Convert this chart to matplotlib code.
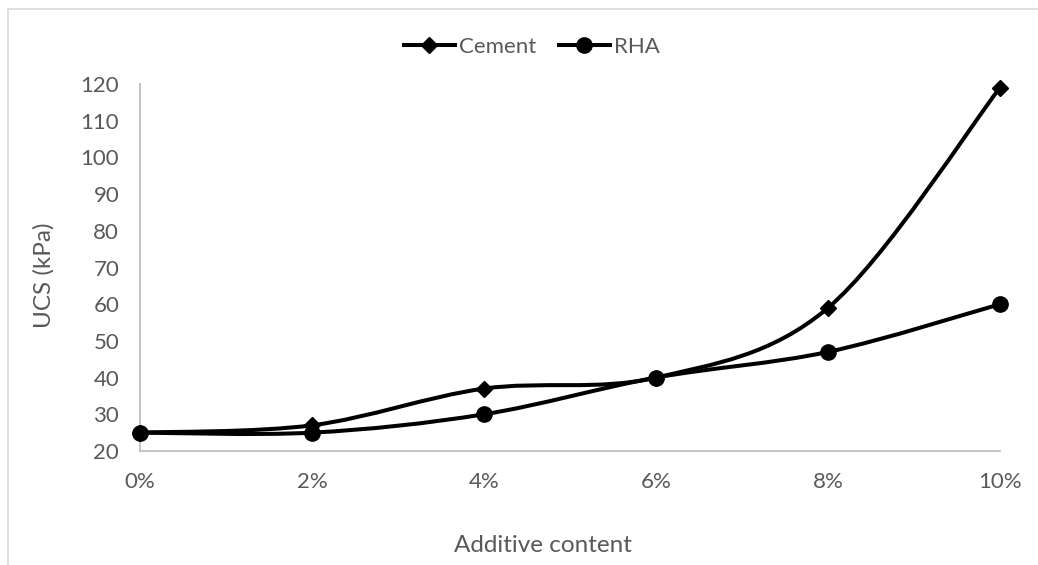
import numpy as np
import matplotlib.pyplot as plt
from matplotlib.path import Path
from matplotlib.patches import PathPatch, Rectangle
from matplotlib.lines import Line2D

# data
additive = [0, 2, 4, 6, 8, 10]
tick_labels = ['0%', '2%', '4%', '6%', '8%', '10%']
cement = [25, 27, 37, 40, 59, 119]
rha = [25, 25, 30, 40, 47, 60]

TEXT = '#595959'
AXIS = '#BFBFBF'
FONT = 'Lato'


def smooth_path(x, y):
    """Excel-like smoothed line: Catmull-Rom segments written as cubic Beziers."""
    pts = np.column_stack([x, y]).astype(float)
    n = len(pts)
    verts = [pts[0]]
    codes = [Path.MOVETO]
    for i in range(n - 1):
        p0 = pts[max(i - 1, 0)]
        p1 = pts[i]
        p2 = pts[i + 1]
        p3 = pts[min(i + 2, n - 1)]
        c1 = p1 + (p2 - p0) / 6.0
        c2 = p2 - (p3 - p1) / 6.0
        verts += [c1, c2, p2]
        codes += [Path.CURVE4] * 3
    return Path(verts, codes)


fig = plt.figure(figsize=(10.38, 5.65), dpi=100)
ax = fig.add_axes([140 / 1038, 1 - 451 / 565, 860 / 1038, 367 / 565])

# outer chart border
fig.patches.append(Rectangle((8 / 1038, -0.01), 1.1, 1 - 9 / 565 + 0.01,
                             transform=fig.transFigure, fill=False,
                             edgecolor='#D9D9D9', linewidth=1.2))

for series, marker, ms in [(cement, 'D', 8.5), (rha, 'o', 11)]:
    ax.add_patch(PathPatch(smooth_path(additive, series), facecolor='none',
                           edgecolor='black', linewidth=2.9, clip_on=False,
                           zorder=3))
    ax.plot(additive, series, linestyle='none', marker=marker, markersize=ms,
            color='black', clip_on=False, zorder=4)

ax.set_xlim(0, 10)
ax.set_ylim(20, 120)
ax.set_xticks(additive)
ax.set_xticklabels(tick_labels)
ax.set_yticks(np.arange(20, 121, 10))
ax.tick_params(length=0, labelsize=16, labelcolor=TEXT)
ax.tick_params(axis='y', pad=15)
ax.tick_params(axis='x', pad=15)
for lbl in ax.get_xticklabels() + ax.get_yticklabels():
    lbl.set_fontfamily(FONT)

for side in ['top', 'right']:
    ax.spines[side].set_visible(False)
for side in ['left', 'bottom']:
    ax.spines[side].set_color(AXIS)
    ax.spines[side].set_linewidth(1.3)

fig.text(543 / 1038, 1 - 545 / 565, 'Additive content', ha='center',
         va='center', fontsize=17.5, color=TEXT, family=FONT)
fig.text(44 / 1038, 1 - 275 / 565, 'UCS (kPa)', ha='center', va='center',
         rotation=90, fontsize=17.5, color=TEXT, family=FONT)

handles = [Line2D([], [], color='black', linewidth=2.9, marker='D',
                  markersize=8.5),
           Line2D([], [], color='black', linewidth=2.9, marker='o',
                  markersize=11)]
leg = fig.legend(handles, ['Cement', 'RHA'], loc='center',
                 bbox_to_anchor=(532 / 1038, 1 - 47 / 565), ncol=2,
                 frameon=False, handlelength=2.3, handletextpad=0.2,
                 columnspacing=1.0, prop={'family': FONT, 'size': 16})
for t in leg.get_texts():
    t.set_color(TEXT)

fig.savefig('out.png', dpi=100)
